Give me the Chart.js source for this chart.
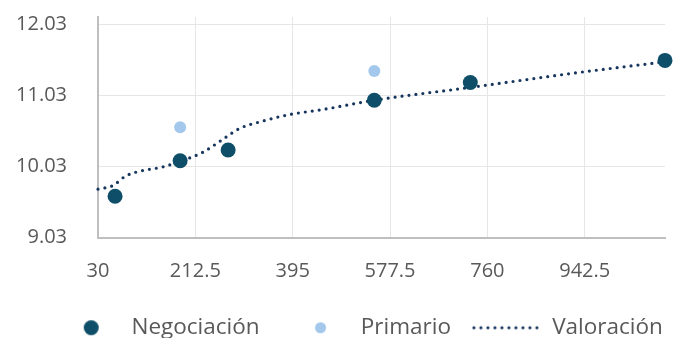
<!DOCTYPE html>
<html>
<head>
<meta charset="utf-8">
<script src="https://cdn.jsdelivr.net/npm/chart.js@4.4.1/dist/chart.umd.min.js"></script>
<style>
  html, body { margin: 0; padding: 0; background: #ffffff; }
  #wrap { width: 680px; height: 338px; }
</style>
</head>
<body>
<div id="wrap"><canvas id="chart" width="680" height="338"></canvas></div>
<script>
// Series values
const negociacionX = [62, 184, 274, 548, 728, 1093];
const negociacionY = [9.61, 10.11, 10.26, 10.96, 11.21, 11.52];
const primarioX = [184, 548];
const primarioY = [10.58, 11.37];
const valoracionX = [30, 58, 81, 107, 150, 184, 227, 262, 296, 338, 390, 452, 548, 728, 921, 1093];
const valoracionY = [9.71, 9.76, 9.89, 9.96, 10.02, 10.10, 10.23, 10.40, 10.565, 10.665, 10.76, 10.83, 10.96, 11.14, 11.34, 11.50];

// Axis ticks and series names
const xTicks = [30, 212.5, 395, 577.5, 760, 942.5];
const yTicks = [9.03, 10.03, 11.03, 12.03];
const seriesNames = ['Negociación', 'Primario', 'Valoración'];

const COLOR_NEG = '#0e4e68';
const COLOR_PRI = '#a3c8ec';
const COLOR_VAL = '#17365d';
const TEXT_COLOR = '#595959';
const FONT = '"Open Sans", "Noto Sans", sans-serif';

const LEGEND_DX = 30;
const LEGEND_DY = 5;

function toPoints(xs, ys) {
  return xs.map((x, i) => ({ x: x, y: ys[i] }));
}

// Legend markers drawn onto small canvases
function dotMarker(color, r) {
  const c = document.createElement('canvas');
  const s = Math.ceil(r * 2 + 2);
  c.width = s; c.height = s;
  const g = c.getContext('2d');
  g.fillStyle = color;
  g.beginPath();
  g.arc(s / 2, s / 2, r, 0, Math.PI * 2);
  g.fill();
  return c;
}
// dotted sample line, drawn in the left part of a wider canvas so it sits close to its text
function dottedMarker(color, w, shift) {
  const c = document.createElement('canvas');
  c.width = w + 2 * shift; c.height = 8;
  const g = c.getContext('2d');
  g.strokeStyle = color;
  g.lineWidth = 3.2;
  g.lineCap = 'round';
  g.setLineDash([0, 7]);
  g.beginPath();
  g.moveTo(2, 4);
  g.lineTo(w - 2, 4);
  g.stroke();
  return c;
}
const legendMarkers = [dotMarker(COLOR_NEG, 7.5), dotMarker(COLOR_PRI, 5.5), dottedMarker(COLOR_VAL, 70, 5)];

const legendShift = {
  id: 'legendShift',
  afterLayout(chart) {
    const l = chart.legend;
    if (!l) return;
    l.left += LEGEND_DX; l.right += LEGEND_DX;
    l.top += LEGEND_DY; l.bottom += LEGEND_DY;
  }
};

new Chart(document.getElementById('chart'), {
  type: 'scatter',
  data: {
    datasets: [
      {
        label: seriesNames[0],
        data: toPoints(negociacionX, negociacionY),
        backgroundColor: COLOR_NEG,
        borderWidth: 0,
        pointRadius: 7.5,
        pointHoverRadius: 7.5,
        order: 1,
        clip: false
      },
      {
        label: seriesNames[1],
        data: toPoints(primarioX, primarioY),
        backgroundColor: COLOR_PRI,
        borderWidth: 0,
        pointRadius: 6,
        pointHoverRadius: 6,
        order: 2,
        clip: false
      },
      {
        label: seriesNames[2],
        data: toPoints(valoracionX, valoracionY),
        showLine: true,
        borderColor: COLOR_VAL,
        backgroundColor: COLOR_VAL,
        borderWidth: 3.2,
        borderDash: [0, 7],
        borderCapStyle: 'round',
        cubicInterpolationMode: 'monotone',
        pointRadius: 0,
        pointHoverRadius: 0,
        order: 3,
        clip: false
      }
    ]
  },
  options: {
    responsive: false,
    devicePixelRatio: 1,
    animation: false,
    layout: { padding: { left: 0, right: 15, top: 17, bottom: -6 } },
    scales: {
      x: {
        type: 'linear',
        min: 30,
        max: 1093,
        afterBuildTicks: (s) => { s.ticks = xTicks.map(v => ({ value: v })); },
        afterFit: (s) => { s.height = 42; s.paddingLeft = 0; s.paddingRight = 0; },
        ticks: {
          callback: (v) => String(v),
          color: TEXT_COLOR,
          font: { family: FONT, size: 20 },
          padding: 22,
          maxRotation: 0,
          autoSkip: false
        },
        grid: { color: '#e6e6e6', lineWidth: 1, drawTicks: false },
        border: { color: '#bfbfbf', width: 2 }
      },
      y: {
        min: 9.03,
        max: 12.13,
        afterBuildTicks: (s) => { s.ticks = yTicks.map(v => ({ value: v })); },
        afterFit: (s) => { s.width = 98; s.paddingTop = 0; s.paddingBottom = 0; },
        ticks: {
          callback: (v) => Number(v).toFixed(2),
          color: TEXT_COLOR,
          font: { family: FONT, size: 20 },
          padding: 31
        },
        grid: { color: '#e6e6e6', lineWidth: 1, drawTicks: false },
        border: { color: '#bfbfbf', width: 2 }
      }
    },
    plugins: {
      tooltip: { enabled: false },
      legend: {
        position: 'bottom',
        labels: {
          usePointStyle: true,
          pointStyleWidth: 58,
          padding: 32,
          color: TEXT_COLOR,
          font: { family: FONT, size: 22.5 },
          generateLabels(chart) {
            const items = Chart.defaults.plugins.legend.labels.generateLabels(chart);
            items.forEach((it, i) => { it.pointStyle = legendMarkers[i]; it.fontColor = TEXT_COLOR; });
            return items;
          }
        }
      }
    }
  },
  plugins: [legendShift]
});
</script>
</body>
</html>
